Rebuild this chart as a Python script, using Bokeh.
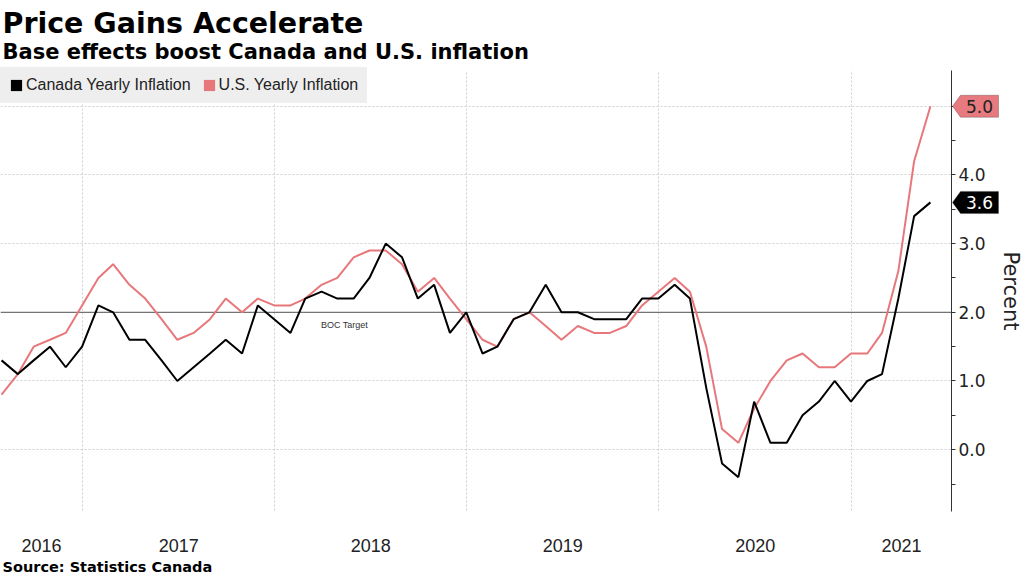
import math
import pandas as pd
from bokeh.plotting import figure
from bokeh.models import (Range1d, FixedTicker, NumeralTickFormatter, DatetimeTickFormatter,
                          Span, Label, Legend, LegendItem, PolyAnnotation, BoxAnnotation,
                          ColumnDataSource)
from bokeh.embed import file_html
from bokeh.resources import INLINE

# ---------------- data ----------------
first_month = "2016-07"
last_month = "2021-05"

canada = [1.3, 1.1, 1.3, 1.5, 1.2, 1.5,
          2.1, 2.0, 1.6, 1.6, 1.3, 1.0, 1.2, 1.4, 1.6, 1.4, 2.1, 1.9,
          1.7, 2.2, 2.3, 2.2, 2.2, 2.5, 3.0, 2.8, 2.2, 2.4, 1.7, 2.0,
          1.4, 1.5, 1.9, 2.0, 2.4, 2.0, 2.0, 1.9, 1.9, 1.9, 2.2, 2.2,
          2.4, 2.2, 0.9, -0.2, -0.4, 0.7, 0.1, 0.1, 0.5, 0.7, 1.0, 0.7,
          1.0, 1.1, 2.2, 3.4, 3.6]
us = [0.8, 1.1, 1.5, 1.6, 1.7, 2.1,
      2.5, 2.7, 2.4, 2.2, 1.9, 1.6, 1.7, 1.9, 2.2, 2.0, 2.2, 2.1,
      2.1, 2.2, 2.4, 2.5, 2.8, 2.9, 2.9, 2.7, 2.3, 2.5, 2.2, 1.9,
      1.6, 1.5, 1.9, 2.0, 1.8, 1.6, 1.8, 1.7, 1.7, 1.8, 2.1, 2.3,
      2.5, 2.3, 1.5, 0.3, 0.1, 0.6, 1.0, 1.3, 1.4, 1.2, 1.2, 1.4,
      1.4, 1.7, 2.6, 4.2, 5.0]
series_names = ["Canada Yearly Inflation", "U.S. Yearly Inflation"]
years = [2016, 2017, 2018, 2019, 2020, 2021]
y_ticks = [0, 1, 2, 3, 4, 5]
y_minor = [-0.5, 0.5, 1.5, 2.5, 3.5, 4.5]
boc_target = 2.0
boc_label = "BOC Target"

title = "Price Gains Accelerate"
subtitle = "Base effects boost Canada and U.S. inflation"
source_text = "Source:  Statistics Canada"
y_label = "Percent"

# ---------------- layout / style ----------------
W, H = 1022, 574                 # whole canvas is the frame
PLOT_TOP, PLOT_BOTTOM = 70, 511  # canvas px of the chart area
AXIS_PX = 951                    # canvas px of the value axis
Y0, Y1 = -0.9, 5.52              # value range of the chart area

FONT = "Liberation Sans"
DV = "DejaVu Sans"
RED = "#e8777b"
TAG_RED = "#e77a7e"
GRID = "#cfcfcf"
LEG_BG = "#eeeeee"

months = pd.period_range(first_month, last_month, freq="M")
dates = months.to_timestamp(how="end").normalize()
src = ColumnDataSource(dict(date=dates, canada=canada, us=us))

x_start = pd.Timestamp("2016-07-29")
x_axis = pd.Timestamp("2021-07-10")
x_end = x_start + (x_axis - x_start) * (W / AXIS_PX)

ppu = (PLOT_BOTTOM - PLOT_TOP) / (Y1 - Y0)
y_lo = Y0 - (H - PLOT_BOTTOM) / ppu
y_hi = Y1 + PLOT_TOP / ppu


def ms(t):
    return t.timestamp() * 1000.0


def y_at(py):
    """value at canvas pixel row py (used for placing texts)"""
    return y_hi - py / ppu


p = figure(x_axis_type="datetime", y_axis_location="right",
           x_range=Range1d(x_start, x_end), y_range=Range1d(y_lo, y_hi),
           width=W, height=H,
           min_border_left=0, min_border_right=0, min_border_top=0, min_border_bottom=0,
           output_backend="svg", toolbar_location=None,
           background_fill_color="white", border_fill_color="white",
           outline_line_color=None)

# grid
boundaries = [pd.Timestamp(f"{y}-01-01") for y in years[1:]]
p.xgrid.ticker = FixedTicker(ticks=[ms(b) for b in boundaries])
p.ygrid.ticker = FixedTicker(ticks=y_ticks)
for g in (p.xgrid, p.ygrid):
    g.grid_line_color = GRID
    g.grid_line_dash = "2 2"
    g.grid_line_width = 1

# BOC target line
p.add_layout(Span(location=boc_target, dimension="width", line_color="#555555",
                  line_width=1, level="underlay"))

# white masks limiting grid / target line to the chart area
for kw in (dict(bottom=Y1), dict(top=Y0), dict(left=ms(x_axis))):
    p.add_layout(BoxAnnotation(fill_color="white", fill_alpha=1.0, line_color=None,
                               level="glyph", **kw))

# x axis: year labels centred in each (visible) year
edges = [x_start] + boundaries + [x_axis]
mids = [ms(a + (b - a) / 2) for a, b in zip(edges[:-1], edges[1:])]
xa = p.xaxis[0]
xa.fixed_location = Y0
xa.ticker = FixedTicker(ticks=mids, minor_ticks=[])
xa.formatter = DatetimeTickFormatter(years="%Y", months="%Y", days="%Y", hours="%Y",
                                     hourmin="%Y", minutes="%Y", minsec="%Y",
                                     seconds="%Y", milliseconds="%Y", microseconds="%Y")
xa.axis_line_color = None
xa.major_tick_line_color = None
xa.minor_tick_line_color = None
xa.major_label_standoff = 21
xa.major_label_text_font = FONT
xa.major_label_text_font_size = "18px"
xa.major_label_text_color = "#222222"

# y axis (right, at the end of the chart area)
ya = p.yaxis[0]
ya.fixed_location = ms(x_axis)
ya.bounds = (Y0, Y1)
ya.ticker = FixedTicker(ticks=y_ticks, minor_ticks=y_minor)
ya.formatter = NumeralTickFormatter(format="0.0")
ya.major_label_overrides = {5: ""}
ya.axis_line_color = "#333333"
ya.axis_line_width = 1
ya.major_tick_line_color = "#333333"
ya.minor_tick_line_color = "#333333"
ya.major_tick_in = 0
ya.major_tick_out = 4
ya.minor_tick_in = 0
ya.minor_tick_out = 4
ya.major_label_standoff = 3
ya.major_label_text_font = DV
ya.major_label_text_font_size = "17px"
ya.major_label_text_color = "#222222"
ya.axis_label = y_label
ya.axis_label_text_font = DV
ya.axis_label_text_font_size = "21px"
ya.axis_label_text_font_style = "normal"
ya.axis_label_text_color = "#222222"
ya.axis_label_standoff = 10

p.add_layout(Label(x=ms(pd.Timestamp("2018-03-30")), y=boc_target, y_offset=-8,
                   text=boc_label, text_font=FONT, text_font_size="9px",
                   text_color="#333333", text_baseline="top", text_align="left"))

# lines
r_us = p.line("date", "us", source=src, line_color=RED, line_width=2)
r_ca = p.line("date", "canada", source=src, line_color="black", line_width=2)

# legend (square swatches from invisible quads)
nan = [math.nan]
sw_ca = p.quad(left=nan, right=nan, top=nan, bottom=nan, fill_color="black", line_color=None)
sw_us = p.quad(left=nan, right=nan, top=nan, bottom=nan, fill_color=RED, line_color=None)
legend = Legend(items=[LegendItem(label=series_names[0], renderers=[sw_ca]),
                       LegendItem(label=series_names[1], renderers=[sw_us])],
                location=(0, H - (PLOT_TOP + 33)), orientation="horizontal",
                background_fill_color=LEG_BG, background_fill_alpha=1.0,
                border_line_color=LEG_BG, border_line_width=1,
                margin=0, padding=8, spacing=11,
                label_standoff=3, glyph_width=14, glyph_height=14, label_height=17,
                label_text_font=FONT, label_text_font_size="16px",
                label_text_color="#222222")
p.add_layout(legend)

# last-value tags on the value axis
half = 11 / ppu
tip = AXIS_PX + 1
for val, fill, txt_col in ((us[-1], TAG_RED, "#222222"), (canada[-1], "black", "white")):
    xs = [tip, tip + 8, tip + 46, tip + 46, tip + 8]
    ys = [val, val + half, val + half, val - half, val - half]
    p.add_layout(PolyAnnotation(xs=xs, ys=ys, xs_units="screen", ys_units="data",
                                fill_color=fill, fill_alpha=1.0,
                                line_color="#333333", line_width=1))
    p.add_layout(Label(x=tip + 27, y=val, x_units="screen", y_units="data",
                       text=f"{val:.1f}", text_font=DV, text_font_size="17px",
                       text_color=txt_col, text_align="center", text_baseline="middle"))

# title, subtitle, source (rows given in canvas px; the text box sits slightly lower)
for txt, py, size in ((title, 23, "28.5px"), (subtitle, 51, "21px"),
                      (source_text, 566, "14.5px")):
    p.add_layout(Label(x=2, y=y_at(py), x_units="screen", y_units="data",
                       text=txt, text_font=DV, text_font_size=size,
                       text_font_style="bold", text_color="black",
                       text_baseline="alphabetic"))

open("out.html", "w").write(file_html(p, INLINE))
